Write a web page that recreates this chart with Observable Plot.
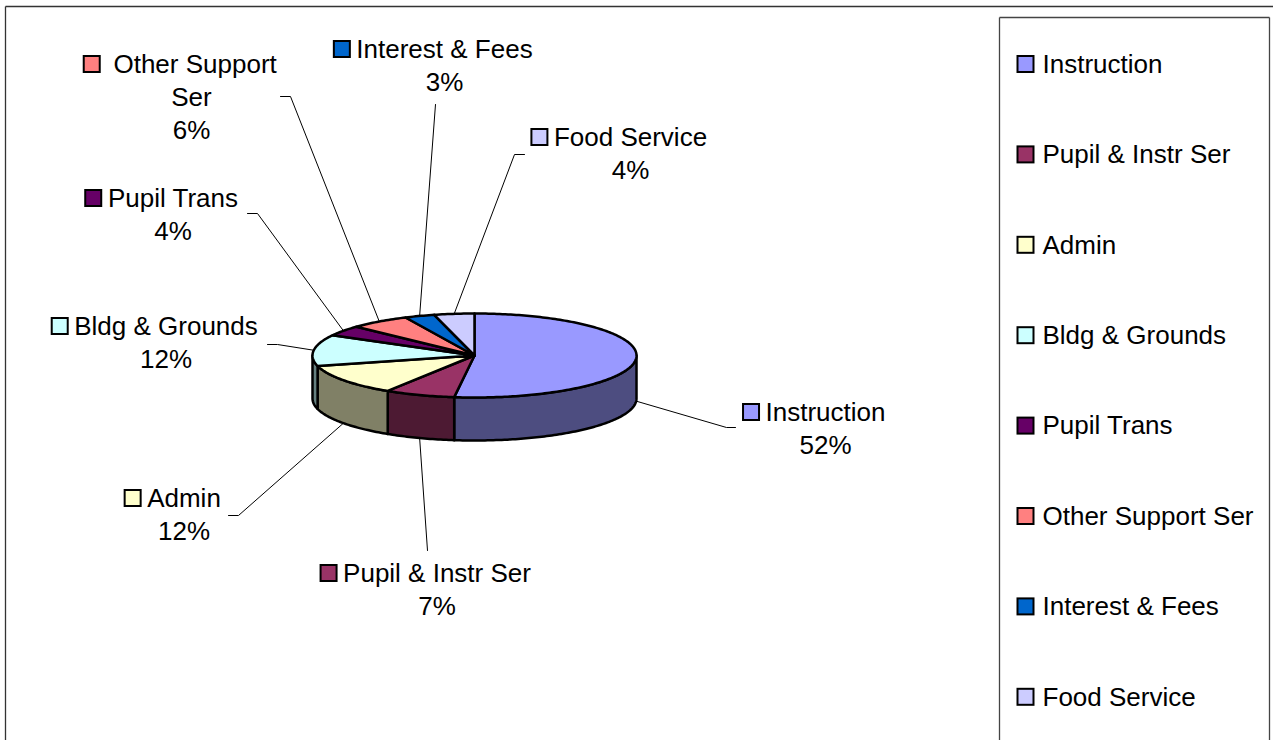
<!DOCTYPE html>
<html>
<head>
<meta charset="utf-8">
<script src="https://cdn.jsdelivr.net/npm/d3@7"></script>
<script src="https://cdn.jsdelivr.net/npm/@observablehq/plot@0.6"></script>
<style>
  html, body { margin: 0; padding: 0; background: #fff; overflow: hidden; }
  #chart { width: 1273px; height: 740px; overflow: hidden; }
</style>
</head>
<body>
<div id="chart"></div>
<script>
// ---- data ----
const categories = ["Instruction", "Pupil & Instr Ser", "Admin", "Bldg & Grounds", "Pupil Trans", "Other Support Ser", "Interest & Fees", "Food Service"];
const values = [52, 7, 12, 12, 4, 6, 3, 4];
const pctLabels = ["52%", "7%", "12%", "12%", "4%", "6%", "3%", "4%"];
const labelLines = [["Instruction"], ["Pupil & Instr Ser"], ["Admin"], ["Bldg & Grounds"], ["Pupil Trans"], ["\u00a0Other Support", "Ser"], ["Interest & Fees"], ["Food Service"]];
const topColors = ["#9999FF", "#993366", "#FFFFCC", "#CCFFFF", "#660066", "#FF8080", "#0066CC", "#CCCCFF"];
const sideColors = ["#4D4D80", "#4D1A33", "#808066", "#668080", "#330033", "#804040", "#003366", "#666680"];

// ---- layout ----
const W = 1273, H = 740;
const pie = {cx: 474, cy: 355, rx: 162, ry: 42, depth: 43};
const labelPos = [
  {cx: 825, y: 412}, {cx: 436.5, y: 573}, {cx: 183.5, y: 498}, {cx: 165.5, y: 326},
  {cx: 172.5, y: 198}, {cx: 191, y: 64}, {cx: 444, y: 49}, {cx: 630, y: 137}
];
const leaderTails = [
  [[726, 427], [735, 427]], [[427, 550]], [[238, 515], [228, 515]], [[277, 344], [267, 344]],
  [[257, 213], [247, 213]], [[290, 96], [280, 96]], [[435, 104]], [[514, 154], [524, 154]]
];
const legend = {keyX: 1025.5, textX: 1042, y0: 64, step: 90.4};
const fontSize = 26, lineStep = 33, keySize = 16, keyGap = 6;
const fontFamily = '"Liberation Sans", Arial, Helvetica, sans-serif';

// ---- geometry from data ----
const total = d3.sum(values);
let acc = 0;
const slices = values.map((v, i) => {
  const a0 = acc / total * 360; acc += v; const a1 = acc / total * 360;
  return {i, a0, a1, mid: (a0 + a1) / 2};
});
const pt = (deg, dy = 0) => {
  const t = deg * Math.PI / 180;
  return [pie.cx + pie.rx * Math.sin(t), pie.cy - pie.ry * Math.cos(t) + dy];
};
const arc = (a0, a1, dy) => {
  const n = Math.max(2, Math.ceil(a1 - a0));
  return d3.range(n + 1).map(k => pt(a0 + (a1 - a0) * k / n, dy));
};

const topRows = [], sideRows = [];
for (const s of slices) {
  const poly = [[pie.cx, pie.cy], ...arc(s.a0, s.a1, 0), [pie.cx, pie.cy]];
  poly.forEach(([x, y]) => topRows.push({id: "t" + s.i, x, y, fill: topColors[s.i]}));
  const a = Math.max(s.a0, 90), b = Math.min(s.a1, 270);
  if (a < b) {
    const top = arc(a, b, 0), bot = arc(a, b, pie.depth).reverse();
    const sp = [...top, ...bot, top[0]];
    sp.forEach(([x, y]) => sideRows.push({id: "s" + s.i, x, y, fill: sideColors[s.i]}));
  }
}

// leader lines: start at slice mid-angle (bottom edge if on the front wall)
const leaderRows = [];
slices.forEach(s => {
  const front = Math.cos(s.mid * Math.PI / 180) < 0;
  const start = pt(s.mid, front ? pie.depth : 0);
  [start, ...leaderTails[s.i]].forEach(([x, y]) => leaderRows.push({id: s.i, x, y}));
});

// text measuring for key placement
const ctx = document.createElement("canvas").getContext("2d");
ctx.font = `${fontSize}px "Liberation Sans", Arial, sans-serif`;

const labelTextRows = [], keyRows = [];
slices.forEach(s => {
  const p = labelPos[s.i];
  const lines = [...labelLines[s.i], pctLabels[s.i]];
  lines.forEach((t, k) => labelTextRows.push({x: p.cx, y: p.y + k * lineStep, text: t}));
  const w = ctx.measureText(lines[0]).width;
  const kr = p.cx - w / 2 - keyGap;
  keyRows.push({x1: kr - keySize, x2: kr, y1: p.y - keySize / 2, y2: p.y + keySize / 2, fill: topColors[s.i]});
});
categories.forEach((c, i) => {
  const y = legend.y0 + i * legend.step;
  keyRows.push({x1: legend.keyX - keySize / 2, x2: legend.keyX + keySize / 2, y1: y - keySize / 2, y2: y + keySize / 2, fill: topColors[i]});
});
const legendText = categories.map((c, i) => ({x: legend.textX, y: legend.y0 + i * legend.step, text: c}));

const borders = [
  {x1: 5, y1: 6, x2: W, y2: 6, c: "#333333"},
  {x1: 5, y1: 6, x2: 5, y2: H, c: "#333333"},
  {x1: 999, y1: 17, x2: 1269, y2: 17, c: "#444444"},
  {x1: 999, y1: 17, x2: 999, y2: H, c: "#444444"},
  {x1: 1269, y1: 17, x2: 1269, y2: H, c: "#444444"}
];

const chart = Plot.plot({
  width: W, height: H, margin: 0,
  x: {domain: [0, W], range: [0, W], axis: null},
  y: {domain: [0, H], range: [0, H], axis: null},
  color: {type: "identity"},
  style: {fontFamily, background: "#fff", overflow: "hidden"},
  marks: [
    Plot.link(borders, {x1: "x1", y1: "y1", x2: "x2", y2: "y2", stroke: "c", strokeWidth: 1.3}),
    Plot.line(leaderRows, {x: "x", y: "y", z: "id", stroke: "#000", strokeWidth: 1}),
    Plot.line(sideRows, {x: "x", y: "y", z: "id", fill: "fill", stroke: "#000", strokeWidth: 2.5, strokeLinejoin: "round"}),
    Plot.line(topRows, {x: "x", y: "y", z: "id", fill: "fill", stroke: "#000", strokeWidth: 2.5, strokeLinejoin: "round"}),
    Plot.rect(keyRows, {x1: "x1", x2: "x2", y1: "y1", y2: "y2", fill: "fill", stroke: "#000", strokeWidth: 2}),
    Plot.text(labelTextRows, {x: "x", y: "y", text: "text", fontSize, textAnchor: "middle", fill: "#000"}),
    Plot.text(legendText, {x: "x", y: "y", text: "text", fontSize, textAnchor: "start", fill: "#000"})
  ]
});
document.getElementById("chart").appendChild(chart);
</script>
</body>
</html>
